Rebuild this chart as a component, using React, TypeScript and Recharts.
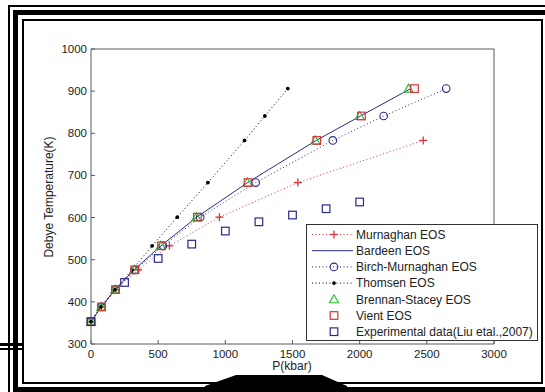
import { ComposedChart, Line, XAxis, YAxis, Legend } from "recharts";

// shared Debye temperatures (K) of the EOS curves
const debyeT = [353, 388, 429, 476, 533, 601, 683, 783, 841, 906];
const murnaghanP = [0, 78, 185, 351, 584, 956, 1540, 2473];
const bardeenP = [0, 76, 180, 320, 521, 787, 1166, 1676, 2006, 2380];
const birchP = [0, 78, 183, 330, 535, 813, 1226, 1800, 2179, 2644];
const thomsenP = [0, 73, 177, 306, 455, 642, 870, 1143, 1294, 1465];
const brennanP = [0, 76, 180, 322, 519, 784, 1164, 1670, 2000, 2364];
const vientP = [0, 78, 182, 325, 525, 792, 1169, 1681, 2013, 2408];
const expP = [0, 250, 500, 750, 1000, 1250, 1500, 1750, 2000];
const expT = [353, 446, 503, 537, 568, 590, 606, 621, 637];

const xTicks = [0, 500, 1000, 1500, 2000, 2500, 3000];
const yTicks = [300, 400, 500, 600, 700, 800, 900, 1000];

const RED = "#d8333a";
const NAVY = "#2a2a8c";
const GREEN = "#22c02a";
const AXIS = "#5a5a5a";
const FONT = "'Liberation Sans', Arial, sans-serif";

const pts = (ps: number[], ts: number[]) => ps.map((p, i) => ({ p, t: ts[i] }));

type Kind = "plus" | "none" | "circle" | "dot" | "triangle" | "square";
type Series = { name: string; data: { p: number; t: number }[]; color: string; marker: Kind; dash?: string; line: boolean };

const series: Series[] = [
  { name: "Murnaghan EOS", data: pts(murnaghanP, debyeT), color: RED, marker: "plus", dash: "1 2.5", line: true },
  { name: "Bardeen EOS", data: pts(bardeenP, debyeT), color: NAVY, marker: "none", line: true },
  { name: "Birch-Murnaghan EOS", data: pts(birchP, debyeT), color: NAVY, marker: "circle", dash: "1 2.5", line: true },
  { name: "Thomsen EOS", data: pts(thomsenP, debyeT), color: "#000", marker: "dot", dash: "1 2.5", line: true },
  { name: "Brennan-Stacey EOS", data: pts(brennanP, debyeT), color: GREEN, marker: "triangle", line: false },
  { name: "Vient EOS", data: pts(vientP, debyeT), color: RED, marker: "square", line: false },
  { name: "Experimental data(Liu etal.,2007)", data: pts(expP, expT), color: NAVY, marker: "square", line: false },
];

function Marker({ kind, cx, cy, color }: { kind: Kind; cx: number; cy: number; color: string }) {
  switch (kind) {
    case "plus":
      return (
        <g stroke={color} strokeWidth={1.3}>
          <line x1={cx - 4} x2={cx + 4} y1={cy} y2={cy} />
          <line x1={cx} x2={cx} y1={cy - 4} y2={cy + 4} />
        </g>
      );
    case "circle":
      return <circle cx={cx} cy={cy} r={3.8} fill="none" stroke={color} strokeWidth={1.1} />;
    case "dot":
      return <circle cx={cx} cy={cy} r={1.9} fill={color} />;
    case "triangle":
      return (
        <polygon
          points={`${cx},${cy - 4.5} ${cx - 4.5},${cy + 3.5} ${cx + 4.5},${cy + 3.5}`}
          fill="none"
          stroke={color}
          strokeWidth={1.1}
        />
      );
    case "square":
      return <rect x={cx - 3.8} y={cy - 3.8} width={7.6} height={7.6} fill="none" stroke={color} strokeWidth={1.2} />;
    default:
      return <g />;
  }
}

const makeDot = (s: Series) => (props: any) =>
  <Marker key={`${s.name}-${props.index}`} kind={s.marker} cx={props.cx} cy={props.cy} color={s.color} />;

const txt = { fontFamily: FONT, fontSize: 11.5, fill: "#222" };

// inward ticks, MATLAB style
const BottomTick = ({ x, payload }: any) => (
  <g>
    <line x1={x} x2={x} y1={344} y2={340} stroke={AXIS} />
    <text x={x} y={357.5} textAnchor="middle" {...txt}>{payload.value}</text>
  </g>
);
const TopTick = ({ x }: any) => <line x1={x} x2={x} y1={49} y2={53} stroke={AXIS} />;
const LeftTick = ({ y, payload }: any) => (
  <g>
    <line x1={91} x2={95} y1={y} y2={y} stroke={AXIS} />
    <text x={87} y={y + 4} textAnchor="end" {...txt}>{payload.value}</text>
  </g>
);
const RightTick = ({ y }: any) => <line x1={494} x2={490} y1={y} y2={y} stroke={AXIS} />;

function LegendBox() {
  return (
    <div style={{ width: 232, height: 117, boxSizing: "border-box", border: "1px solid #333", background: "#fff" }}>
      <svg width={230} height={115} style={{ display: "block" }}>
        {series.map((s, i) => {
          const cy = 9.5 + i * 16.2;
          return (
            <g key={s.name}>
              {s.line && (
                <line x1={5} x2={46} y1={cy} y2={cy} stroke={s.color} strokeWidth={1} strokeDasharray={s.dash} />
              )}
              <Marker kind={s.marker} cx={27} cy={cy} color={s.color} />
              <text x={49} y={cy + 4.3} {...txt} fontSize={12}>{s.name}</text>
            </g>
          );
        })}
      </svg>
    </div>
  );
}

const bar = (left: number, top: number, width: number, height: number) => (
  <div style={{ position: "absolute", left, top, width, height, background: "#000" }} />
);

export default function App() {
  return (
    <div style={{ position: "absolute", left: 0, top: 0, width: 545, height: 392, background: "#fff", overflow: "hidden" }}>
      {/* scanned double frame */}
      {bar(8, 5, 537, 2)}
      {bar(13, 10, 532, 5)}
      {bar(22, 19, 521, 2)}
      {bar(8, 5, 2, 387)}
      {bar(13, 10, 5, 382)}
      {bar(22, 19, 2, 365)}
      {bar(541, 19, 2, 365)}
      {bar(22, 382, 521, 2)}
      {bar(13, 387, 532, 5)}
      {bar(0, 343, 24, 3)}
      {bar(0, 348, 24, 2)}
      <svg width={545} height={392} style={{ position: "absolute", left: 0, top: 0 }}>
        <polygon points="205,386 236,375 322,375 347,386 347,392 205,392" fill="#000" />
      </svg>

      <div style={{ position: "absolute", left: 0, top: 0 }}>
        <ComposedChart width={545} height={392} margin={{ top: 39, left: 31, right: 41, bottom: 18 }}>
          <XAxis
            xAxisId="bottom"
            orientation="bottom"
            dataKey="p"
            type="number"
            domain={[0, 3000]}
            ticks={xTicks}
            interval={0}
            height={30}
            tickLine={false}
            tick={<BottomTick />}
            axisLine={{ stroke: AXIS }}
            label={{
              content: () => (
                <text x={292} y={370} textAnchor="middle" {...txt} fontSize={12}>
                  P(kbar)
                </text>
              ),
            }}
          />
          <XAxis
            xAxisId="top"
            orientation="top"
            dataKey="p"
            type="number"
            domain={[0, 3000]}
            ticks={xTicks}
            interval={0}
            height={10}
            tickLine={false}
            tick={<TopTick />}
            axisLine={{ stroke: AXIS }}
          />
          <YAxis
            yAxisId="left"
            orientation="left"
            dataKey="t"
            type="number"
            domain={[300, 1000]}
            ticks={yTicks}
            interval={0}
            width={60}
            tickLine={false}
            tick={<LeftTick />}
            axisLine={{ stroke: AXIS }}
            label={{
              content: () => (
                <text transform="translate(49,197) rotate(-90)" textAnchor="middle" dy={4} {...txt} fontSize={12}>
                  Debye Temperature(K)
                </text>
              ),
            }}
          />
          <YAxis
            yAxisId="right"
            orientation="right"
            dataKey="t"
            type="number"
            domain={[300, 1000]}
            ticks={yTicks}
            interval={0}
            width={10}
            tickLine={false}
            tick={<RightTick />}
            axisLine={{ stroke: AXIS }}
          />
          {series.map((s) => (
            <Line
              key={s.name}
              xAxisId="bottom"
              yAxisId="left"
              data={s.data}
              dataKey="t"
              name={s.name}
              type="linear"
              stroke={s.line ? s.color : "none"}
              strokeWidth={1}
              strokeDasharray={s.dash}
              dot={makeDot(s)}
              activeDot={false}
              isAnimationActive={false}
            />
          ))}
          <Legend
            layout="vertical"
            align="center"
            verticalAlign="middle"
            content={() => <LegendBox />}
            wrapperStyle={{ left: 306, top: 224, width: 232, height: 117 }}
          />
        </ComposedChart>
      </div>
    </div>
  );
}
